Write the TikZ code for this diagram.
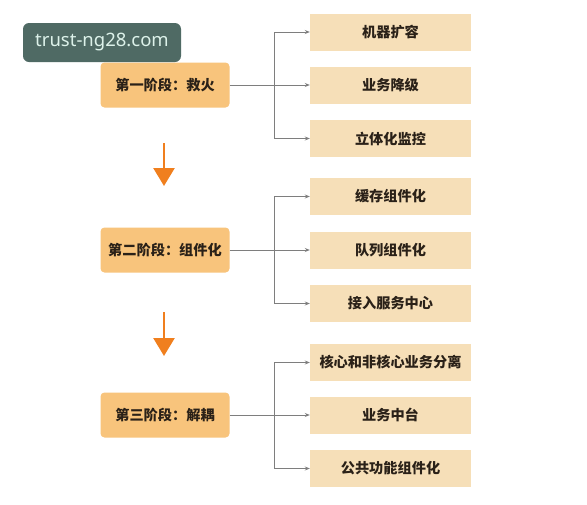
\documentclass[tikz,border=0pt]{standalone}
\usepackage{fontspec}
\setmainfont{Noto Sans CJK SC}
\newfontfamily\wmfont{Noto Sans}
\usetikzlibrary{arrows.meta}
\definecolor{stagefill}{HTML}{F8C47C}
\definecolor{itemfill}{HTML}{F6DFB8}
\definecolor{linkgray}{HTML}{7E7E7E}
\definecolor{arroworange}{HTML}{F07F1E}
\definecolor{wmfill}{HTML}{4F6A64}
\definecolor{wmtext}{HTML}{DDF2EA}
\definecolor{txt}{HTML}{2A2118}
\begin{document}
\begin{tikzpicture}[x=1pt,y=-1pt,
  stagebox/.style={fill=stagefill,rounded corners=4pt,minimum width=129pt,minimum height=45pt,inner sep=0pt,font=\fontsize{14.2pt}{16pt}\selectfont\bfseries,text=txt},
  itembox/.style={fill=itemfill,minimum width=161pt,minimum height=37pt,inner sep=0pt,font=\fontsize{14.2pt}{16pt}\selectfont\bfseries,text=txt},
  link/.style={draw=linkgray,line width=0.9pt},
  linkarrow/.style={link,-{Stealth[length=5pt,width=4pt]}},
  bigarrow/.style={draw=arroworange,line width=2.5pt,-{Triangle[length=18pt,width=21pt]}}]
\useasboundingbox (0,0) rectangle (587,504);
\fill[white] (0,0) rectangle (587,504);

% stage 1
\node[stagebox] (s1) at (165,85) {第一阶段：救火};
\node[itembox] (a1) at (390.5,32) {机器扩容};
\node[itembox] (a2) at (390.5,85) {业务降级};
\node[itembox] (a3) at (390.5,138.5) {立体化监控};
\coordinate (t1a) at (274,32);
\coordinate (t1c) at (274,138.5);
\draw[link] (s1.east) -- (a2.west -| t1a);
\draw[link] (t1a) -- (t1c);
\draw[linkarrow] (t1a) -- (a1.west);
\draw[linkarrow] (a2.west -| t1a) -- (a2.west);
\draw[linkarrow] (t1c) -- (a3.west);

% stage 2
\node[stagebox] (s2) at (165,250) {第二阶段：组件化};
\node[itembox] (b1) at (390.5,196.5) {缓存组件化};
\node[itembox] (b2) at (390.5,250) {队列组件化};
\node[itembox] (b3) at (390.5,303.5) {接入服务中心};
\coordinate (t2a) at (274,196.5);
\coordinate (t2c) at (274,303.5);
\draw[link] (s2.east) -- (b2.west -| t2a);
\draw[link] (t2a) -- (t2c);
\draw[linkarrow] (t2a) -- (b1.west);
\draw[linkarrow] (b2.west -| t2a) -- (b2.west);
\draw[linkarrow] (t2c) -- (b3.west);

% stage 3
\node[stagebox] (s3) at (165,415) {第三阶段：解耦};
\node[itembox] (c1) at (390.5,362.5) {核心和非核心业务分离};
\node[itembox] (c2) at (390.5,415) {业务中台};
\node[itembox] (c3) at (390.5,468.5) {公共功能组件化};
\coordinate (t3a) at (274,362.5);
\coordinate (t3c) at (274,468.5);
\draw[link] (s3.east) -- (c2.west -| t3a);
\draw[link] (t3a) -- (t3c);
\draw[linkarrow] (t3a) -- (c1.west);
\draw[linkarrow] (c2.west -| t3a) -- (c2.west);
\draw[linkarrow] (t3c) -- (c3.west);

% orange arrows between stages
\coordinate (d1s) at (164,143);
\coordinate (d1e) at (164,186);
\coordinate (d2s) at (164,312);
\coordinate (d2e) at (164,356);
\draw[bigarrow] (d1s) -- (d1e);
\draw[bigarrow] (d2s) -- (d2e);

% watermark
\node[fill=wmfill,rounded corners=6pt,minimum width=158pt,minimum height=39pt,inner sep=0pt,text=wmtext,font=\wmfont\fontsize{18.5pt}{21pt}\selectfont] (wm) at (102,42.5) {trust-ng28.com};
\end{tikzpicture}
\end{document}
